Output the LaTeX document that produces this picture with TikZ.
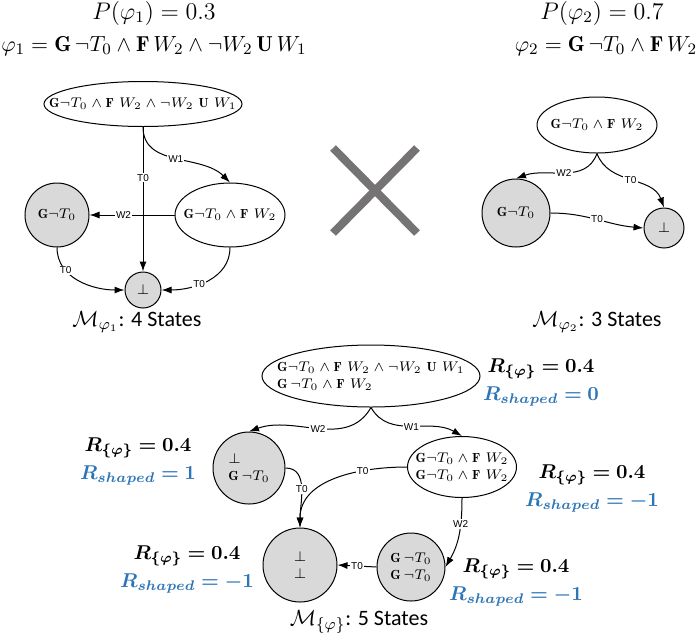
\documentclass[tikz,border=0pt]{standalone}
\usepackage{amsmath, amssymb, bm}
\usepackage{fontspec}
\setsansfont{Liberation Sans}
\newfontfamily\calfont{Carlito}
\usetikzlibrary{shapes.geometric, arrows.meta}
\definecolor{shapedblue}{RGB}{46,117,182}
\definecolor{crossgray}{RGB}{117,115,115}
\tikzset{
    state/.style={draw, ellipse, inner sep=0pt, line width=0.5pt},
    sink/.style={draw, circle, fill=black!15, inner sep=0pt, line width=0.5pt, align=left, font=\fontsize{6.6}{8.5}\selectfont},
    every label/.style={font=\fontsize{6.6}{8.5}\selectfont, align=left},
    arrow/.style={-{Latex[length=5pt, width=3.5pt]}, line width=0.5pt},
    lbl/.style={font=\sffamily\fontsize{5}{6}\selectfont, fill=white, inner sep=0.6pt},
    reward/.style={align=center, font=\normalsize},
    title/.style={font=\large},
    formula/.style={font=\fontsize{10.8}{13}\selectfont},
    machine/.style={font=\fontsize{11}{13}\selectfont}
}

\begin{document}
\begin{tikzpicture}[x=0.5pt, y=-0.5pt]
\useasboundingbox (0,0) rectangle (700,638);

% specifications
\node[title] (p1) at (154,13) {$P(\varphi_1) = 0.3$};
\node[formula] (phi1) at (154,46) {$\varphi_1 = \mathbf{G}\,\neg T_0 \wedge \mathbf{F}\, W_2 \wedge \neg W_2\, \mathbf{U}\, W_1$};
\node[title] (p2) at (602,13) {$P(\varphi_2) = 0.7$};
\node[formula] (phi2) at (606,46) {$\varphi_2 = \mathbf{G}\,\neg T_0 \wedge \mathbf{F}\, W_2$};

% machine for phi_1
\node[state, minimum width=99pt, minimum height=22.5pt, label={center:{$\mathbf{G}\neg T_0 \wedge \mathbf{F}\ W_2 \wedge \neg W_2\ \mathbf{U}\ W_1$}}] (init1) at (143,104) {};
\node[state, minimum width=55pt, minimum height=32pt, label={center:{$\mathbf{G}\neg T_0 \wedge \mathbf{F}\ W_2$}}] (safe1) at (230,215) {};
\node[sink, minimum size=32pt] (avoid1) at (57,215) {$\mathbf{G}\neg T_0$};
\node[sink, minimum size=18pt] (fail1) at (143,290) {$\bot$};
\draw[arrow] (init1.south) -- node[lbl, pos=0.35] {T0} (fail1.north);
\draw[arrow] (init1.south) to[out=-90, in=135] node[lbl] {W1} (safe1.north);
\draw[arrow] (safe1.west) -- node[lbl, pos=0.6] {W2} (avoid1.east);
\draw[arrow] (avoid1.south) to[out=-90, in=180] node[lbl, pos=0.3] {T0} (fail1.west);
\draw[arrow] (safe1.south) to[out=-90, in=0] node[lbl, pos=0.6] {T0} (fail1.east);
\node[machine] (m1) at (137,322) {$\mathcal{M}_{\varphi_1}${\calfont: 4 States}};

% product sign
\draw[crossgray, line width=4pt] (333,148) -- (417,233);
\draw[crossgray, line width=4pt] (417,148) -- (333,233);

% machine for phi_2
\node[state, minimum width=60pt, minimum height=28pt, label={center:{$\mathbf{G}\neg T_0 \wedge \mathbf{F}\ W_2$}}] (init2) at (597,125) {};
\node[sink, minimum size=34pt] (avoid2) at (516,213) {$\mathbf{G}\neg T_0$};
\node[sink, minimum size=20pt] (fail2) at (664,228) {$\bot$};
\draw[arrow] (init2.south) to[out=-110, in=20] node[lbl] {W2} (avoid2.north);
\draw[arrow] (init2.south) to[out=-70, in=110] node[lbl] {T0} (fail2.north);
\draw[arrow] (avoid2.east) to[out=0, in=175] node[lbl] {T0} (fail2.west);
\node[machine] (m2) at (597,322) {$\mathcal{M}_{\varphi_2}${\calfont: 3 States}};

% product machine
\node[state, minimum width=109pt, minimum height=31pt, label={center:{$\mathbf{G}\neg T_0 \wedge \mathbf{F}\ W_2 \wedge \neg W_2\ \mathbf{U}\ W_1$\\$\mathbf{G}\,\neg T_0 \wedge \mathbf{F}\ W_2$}}] (init3) at (371,376) {};
\node[sink, minimum size=36pt] (avoid3) at (249,468) {$\bot$\\$\mathbf{G}\,\neg T_0$};
\node[state, minimum width=54.5pt, minimum height=30.5pt, label={center:{$\mathbf{G}\neg T_0 \wedge \mathbf{F}\ W_2$\\$\mathbf{G}\neg T_0 \wedge \mathbf{F}\ W_2$}}] (safe3) at (462,467) {};
\node[sink, minimum size=37pt, align=center] (fail3) at (300,565) {$\bot$\\$\bot$};
\node[sink, minimum size=34pt] (avoid3b) at (411,567) {$\mathbf{G}\,\neg T_0$\\$\mathbf{G}\,\neg T_0$};
\draw[arrow] (init3.south) to[out=-120, in=20] node[lbl] {W2} (avoid3.north);
\draw[arrow] (init3.south) to[out=-60, in=150] node[lbl] {W1} (safe3.north);
\draw[arrow] (avoid3.east) to[out=0, in=90] node[lbl] {T0} (fail3.north);
\draw[arrow] (safe3.west) to[out=180, in=90] node[lbl, pos=0.3] {T0} (fail3.north);
\draw[arrow] (safe3.south) to[out=-90, in=60] node[lbl, pos=0.35] {W2} (avoid3b.east);
\draw[arrow] (avoid3b.west) -- node[lbl] {T0} (fail3.east);
\node[machine] (m3) at (359,622) {$\mathcal{M}_{\{\varphi\}}${\calfont: 5 States}};

% rewards
\node[reward] (r-init) at (541,382) {$\bm{R_{\{\varphi\}} = 0.4}$\\[2pt]\textcolor{shapedblue}{$\bm{R_{shaped} = 0}$}};
\node[reward] (r-avoid) at (138,461) {$\bm{R_{\{\varphi\}} = 0.4}$\\[2pt]\textcolor{shapedblue}{$\bm{R_{shaped} = 1}$}};
\node[reward] (r-safe) at (592,488) {$\bm{R_{\{\varphi\}} = 0.4}$\\[2pt]\textcolor{shapedblue}{$\bm{R_{shaped} = -1}$}};
\node[reward] (r-fail) at (187,569) {$\bm{R_{\{\varphi\}} = 0.4}$\\[2pt]\textcolor{shapedblue}{$\bm{R_{shaped} = -1}$}};
\node[reward] (r-avoidb) at (516,582) {$\bm{R_{\{\varphi\}} = 0.4}$\\[2pt]\textcolor{shapedblue}{$\bm{R_{shaped} = -1}$}};
\end{tikzpicture}
\end{document}
